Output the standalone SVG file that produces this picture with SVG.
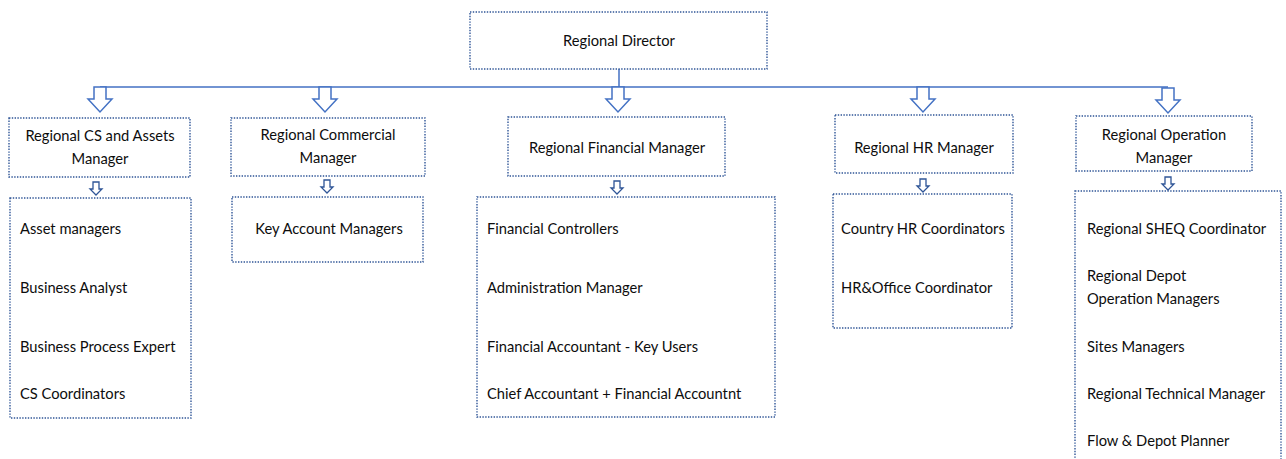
<svg xmlns="http://www.w3.org/2000/svg" width="1286" height="459" viewBox="0 0 1286 459">
<style>
.box{fill:#fff;stroke:#2F5597;stroke-width:1.4;stroke-dasharray:1.4 1.4}
.t{font-family:Lato,"Liberation Sans",sans-serif;font-size:14.7px;fill:#0d0d0d}
.c{text-anchor:middle}
.ln{fill:none;stroke:#4472C4;stroke-width:1.5}
.ar{fill:#fff;stroke:#4472C4;stroke-width:1.5;stroke-linejoin:miter}
.sa{fill:#fff;stroke:#2F5597;stroke-width:1.3}
</style>
<defs>
<path id="big" d="M-6,0 H6 V12 H12 L0,25 L-12,12 H-6 Z"/>
<path id="small" d="M-3,0 H3 V7 H6 L0,13 L-6,7 H-3 Z"/>
</defs>
<g id="connectors">
<path class="ln" d="M619,69 V87 M100,87 H1168"/>
<use href="#big" class="ar" x="100" y="87"/>
<use href="#big" class="ar" x="325" y="87"/>
<use href="#big" class="ar" x="618" y="87"/>
<use href="#big" class="ar" x="923" y="87"/>
<use href="#big" class="ar" x="1168" y="88"/>
<use href="#small" class="sa" x="96" y="182"/>
<use href="#small" class="sa" x="327" y="180"/>
<use href="#small" class="sa" x="617" y="181"/>
<use href="#small" class="sa" x="923" y="179"/>
<use href="#small" class="sa" x="1168" y="177"/>
</g>
<g id="director">
<rect class="box" x="470" y="12" width="297" height="57"/>
<text class="t c" x="619" y="46">Regional Director</text>
</g>
<g id="cs-manager">
<rect class="box" x="9" y="118" width="181" height="59"/>
<text class="t c" x="100" y="141">Regional CS and Assets</text>
<text class="t c" x="100" y="164">Manager</text>
</g>
<g id="commercial-manager">
<rect class="box" x="231" y="118" width="194" height="58"/>
<text class="t c" x="328" y="140">Regional Commercial</text>
<text class="t c" x="328" y="163">Manager</text>
</g>
<g id="financial-manager">
<rect class="box" x="508" y="117" width="217" height="59"/>
<text class="t c" x="617" y="153">Regional Financial Manager</text>
</g>
<g id="hr-manager">
<rect class="box" x="835" y="115" width="178" height="58"/>
<text class="t c" x="924" y="153">Regional HR Manager</text>
</g>
<g id="operation-manager">
<rect class="box" x="1076" y="116" width="176" height="55"/>
<text class="t c" x="1164" y="140">Regional Operation</text>
<text class="t c" x="1164" y="163">Manager</text>
</g>
<g id="cs-team">
<rect class="box" x="10" y="198" width="181" height="220"/>
<text class="t" x="20" y="234">Asset managers</text>
<text class="t" x="20" y="293">Business Analyst</text>
<text class="t" x="20" y="352">Business Process Expert</text>
<text class="t" x="20" y="399">CS Coordinators</text>
</g>
<g id="commercial-team">
<rect class="box" x="232" y="197" width="191" height="65"/>
<text class="t c" x="329" y="234">Key Account Managers</text>
</g>
<g id="financial-team">
<rect class="box" x="477" y="197" width="298" height="220"/>
<text class="t" x="487" y="234">Financial Controllers</text>
<text class="t" x="487" y="293">Administration Manager</text>
<text class="t" x="487" y="352">Financial Accountant - Key Users</text>
<text class="t" x="487" y="399">Chief Accountant + Financial Accountnt</text>
</g>
<g id="hr-team">
<rect class="box" x="833" y="194" width="179" height="134"/>
<text class="t" x="841" y="234">Country HR Coordinators</text>
<text class="t" x="841" y="293">HR&amp;Office Coordinator</text>
</g>
<g id="operation-team">
<rect class="box" x="1075" y="191" width="206" height="290"/>
<text class="t" x="1087" y="234">Regional SHEQ Coordinator</text>
<text class="t" x="1087" y="281">Regional Depot</text>
<text class="t" x="1087" y="304">Operation Managers</text>
<text class="t" x="1087" y="352">Sites Managers</text>
<text class="t" x="1087" y="399">Regional Technical Manager</text>
<text class="t" x="1087" y="446">Flow &amp; Depot Planner</text>
</g>
</svg>
